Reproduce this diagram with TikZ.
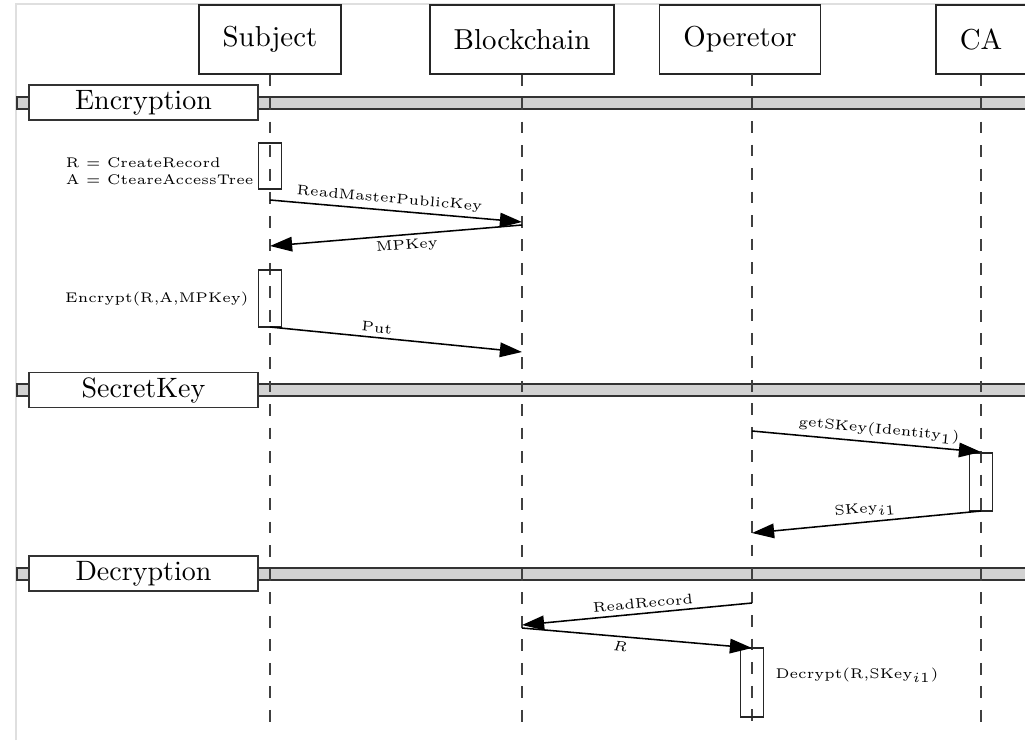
\documentclass[tikz,border=0pt]{standalone}
\usetikzlibrary{arrows.meta}

\tikzset{
  actor/.style={draw=black!85, line width=0.5pt, minimum height=24.6pt, inner xsep=8.5pt, font=\fontsize{10.3}{12}\selectfont},
  lifeline/.style={draw=black!75, line width=0.5pt, dash pattern=on 4.2pt off 4.2pt},
  framebar/.style={draw=black!80, line width=0.5pt, fill=gray!35},
  framelabel/.style={draw=black!80, line width=0.5pt, fill=white, minimum width=81.8pt, minimum height=12.5pt, inner sep=0pt, font=\normalsize},
  activity/.style={draw=black!85, line width=0.5pt, minimum width=8.2pt, inner sep=0pt},
  msg/.style={-{Triangle[length=7.9pt, width=5.2pt]}, line width=0.55pt},
  msglabel/.style={font=\tiny, sloped, inner sep=1.5pt},
  note/.style={font=\tiny, align=left, inner sep=0pt},
}

\begin{document}
\begin{tikzpicture}[x=0.357pt, y=-0.357pt]
	\useasboundingbox (0,0) rectangle (1025,740);
	\draw[gray!25, line width=0.6pt] (16,740) -- (16,4) -- (1025,4);

	% actors
	\node[actor] (subject) at (270,39.5) {Subject};
	\node[actor] (chain) at (522,39.5) {Blockchain};
	\node[actor, minimum width=57.1pt] (operetor) at (740,39.5) {Operetor};
	\node[actor] (ca) at (981,39.5) {CA};

	% phases
	\path[framebar] (17,97) rectangle (1040,109);
	\node[framelabel] (encryption) at (143.5,102.5) {Encryption};
	\path[framebar] (17,384) rectangle (1040,396);
	\node[framelabel] (secretkey) at (143.5,390) {SecretKey};
	\path[framebar] (17,568) rectangle (1040,580);
	\node[framelabel] (decryption) at (143.5,573.5) {Decryption};

	% lifelines
	\coordinate (operetor-top) at (752,74);
	\coordinate (subject-end) at (270,730);
	\coordinate (chain-end) at (522,730);
	\coordinate (operetor-end) at (752,730);
	\coordinate (ca-end) at (981,730);
	\draw[lifeline] (subject.south) -- (subject-end);
	\draw[lifeline] (chain.south) -- (chain-end);
	\draw[lifeline] (operetor-top) -- (operetor-end);
	\draw[lifeline] (ca.south) -- (ca-end);

	% activations
	\node[activity, minimum height=16.4pt] (create) at (270,166) {};
	\node[activity, minimum height=20.3pt] (encrypt) at (270,298.5) {};
	\node[activity, minimum height=20.7pt] (issue) at (981,482) {};
	\node[activity, minimum height=24.6pt] (decrypt) at (752,682.5) {};

	\node[note, anchor=east] (create-note) at (254,171) {R = CreateRecord\\A = CteareAccessTree};
	\node[note, anchor=east] (encrypt-note) at (249,298.5) {Encrypt(R,A,MPKey)};
	\node[note, anchor=west] (decrypt-note) at (775,675) {Decrypt(R,SKey$_{i1}$)};

	% messages
	\coordinate (rmpk-from) at (270,200);
	\coordinate (rmpk-to) at (522,222);
	\coordinate (mpkey-from) at (522,225);
	\coordinate (mpkey-to) at (270,246);
	\coordinate (put-from) at (270,327);
	\coordinate (put-to) at (522,352);
	\coordinate (getkey-from) at (752,431);
	\coordinate (getkey-to) at (981,452);
	\coordinate (skey-from) at (981,511);
	\coordinate (skey-to) at (752,533);
	\coordinate (read-from) at (752,603);
	\coordinate (read-to) at (522,625);
	\coordinate (record-from) at (522,628);
	\coordinate (record-to) at (752,648);

	\draw[msg] (rmpk-from) -- node[msglabel, above, pos=0.47] {ReadMasterPublicKey} (rmpk-to);
	\draw[msg] (mpkey-from) -- node[msglabel, below, pos=0.46] {MPKey} (mpkey-to);
	\draw[msg] (put-from) -- node[msglabel, above, pos=0.42] {Put} (put-to);
	\draw[msg] (getkey-from) -- node[msglabel, above, pos=0.55] {getSKey(Identity$_1$)} (getkey-to);
	\draw[msg] (skey-from) -- node[msglabel, above, pos=0.5] {SKey$_{i1}$} (skey-to);
	\draw[msg] (read-from) -- node[msglabel, above, pos=0.47] {ReadRecord} (read-to);
	\draw[msg] (record-from) -- node[msglabel, below, pos=0.43] {$R$} (record-to);
\end{tikzpicture}
\end{document}
